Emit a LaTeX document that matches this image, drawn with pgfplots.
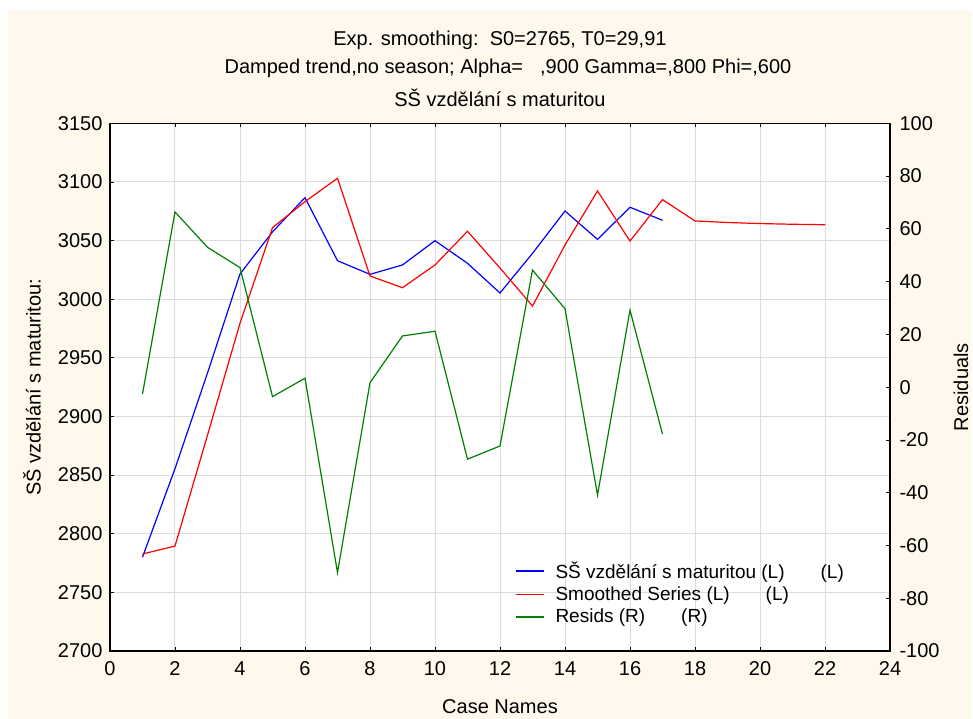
\documentclass[border=0pt]{standalone}
\usepackage{fontspec}
\setmainfont{Liberation Sans}
\usepackage{pgfplots}
\pgfplotsset{compat=1.18}
\definecolor{cream}{RGB}{255,249,237}
\definecolor{gridgray}{RGB}{220,220,220}
\definecolor{sgreen}{RGB}{0,128,0}
\newcommand\chartfont{\fontsize{20bp}{23bp}\selectfont}

\pgfplotsset{
  common/.style={
    scale only axis, width=780bp, height=527.7bp,
    xmin=0, xmax=24,
    tick align=inside, major tick length=4bp,
    every tick/.style={black, line width=0.8bp},
    axis line style={black, line width=1.3bp},
    tick label style={font=\chartfont},
    label style={font=\chartfont},
    /pgf/number format/assume math mode=true,
    /pgf/number format/.cd, use comma, 1000 sep={},
  },
}

\begin{document}
\begin{tikzpicture}
\fill[cream] (-102bp,-68bp) rectangle (862bp,641bp);
\path[use as bounding box] (-110bp,-68bp) rectangle (863bp,651bp);

\begin{axis}[common,
  ymin=2700, ymax=3150,
  xtick={0,2,...,24}, ytick={2700,2750,...,3150},
  xtick pos=both, ytick pos=left,
  xticklabel style={yshift=-7bp},
  yticklabel style={xshift=-4bp},
  grid=major, grid style={gridgray, line width=1bp},
  axis background/.style={fill=white},
  xlabel={Case Names},
  xlabel style={at={(axis description cs:0.5,-0.106)}, anchor=center},
  ylabel={SŠ vzdělání s maturitou:},
  ylabel style={at={(axis description cs:-0.1,0.5)}, anchor=center},
  clip=false,
]
\addplot[blue, line width=1.2bp] coordinates {
  (1,2780) (2,2855.5) (3,2937) (4,3021.5) (5,3057.4) (6,3086.6) (7,3032.8)
  (8,3021.2) (9,3029.2) (10,3049.9) (11,3030.6) (12,3005.3) (13,3039.1)
  (14,3075.2) (15,3051) (16,3078.4) (17,3067.3)
};
\addplot[red, line width=1.2bp] coordinates {
  (1,2782.7) (2,2789.5) (3,2884) (4,2979.5) (5,3061) (6,3083.2) (7,3103.1)
  (8,3019.8) (9,3009.8) (10,3029.2) (11,3057.9) (12,3026.6) (13,2994.2)
  (14,3046.2) (15,3092.3) (16,3049.6) (17,3084.9) (18,3066.7) (19,3065.4)
  (20,3064.5) (21,3063.9) (22,3063.5)
};
% titles
\node[font=\chartfont] at (axis description cs:0.5,1.157)
  {Exp. smoothing:\ \ S0=2765, T0=29,91};
\node[font=\chartfont, xshift=8bp] at (axis description cs:0.5,1.104)
  {Damped trend,no season; Alpha=\hspace{17bp},900 Gamma=,800 Phi=,600};
\node[font=\chartfont] at (axis description cs:0.5,1.049)
  {SŠ vzdělání s maturitou};
\end{axis}

\begin{axis}[common,
  ymin=-100, ymax=100,
  ytick={-100,-80,...,100},
  axis x line=none, axis y line*=right,
  ytick pos=right,
  yticklabel style={xshift=6bp},
  ylabel={Residuals},
  ylabel style={at={(axis description cs:1.091,0.5)}, anchor=center},
  legend style={at={(axis description cs:0.519,0.173)}, anchor=north west,
    draw=none, fill=none, font=\fontsize{19bp}{22bp}\selectfont,
    row sep=3bp, inner sep=0pt,
    /tikz/every odd column/.append style={column sep=9bp}},
  legend cell align=left,
  legend image code/.code={\draw[#1, line width=1.5bp, line cap=butt] (0bp,0bp) -- (28bp,0bp);},
]
\addlegendimage{blue}
\addlegendentry{SŠ vzdělání s maturitou (L)\hspace{36bp}(L)}
\addlegendimage{red}
\addlegendentry{Smoothed Series (L)\hspace{36bp}(L)}
\addplot[sgreen, line width=1.2bp] coordinates {
  (1,-2.6) (2,66.4) (3,53) (4,45.3) (5,-3.6) (6,3.4) (7,-70.3) (8,1.7)
  (9,19.4) (10,21.2) (11,-27.3) (12,-22.3) (13,44.4) (14,29.7) (15,-40.9)
  (16,29.2) (17,-17.8)
};
\addlegendentry{Resids (R)\hspace{36bp}(R)}
\end{axis}
\end{tikzpicture}
\end{document}
